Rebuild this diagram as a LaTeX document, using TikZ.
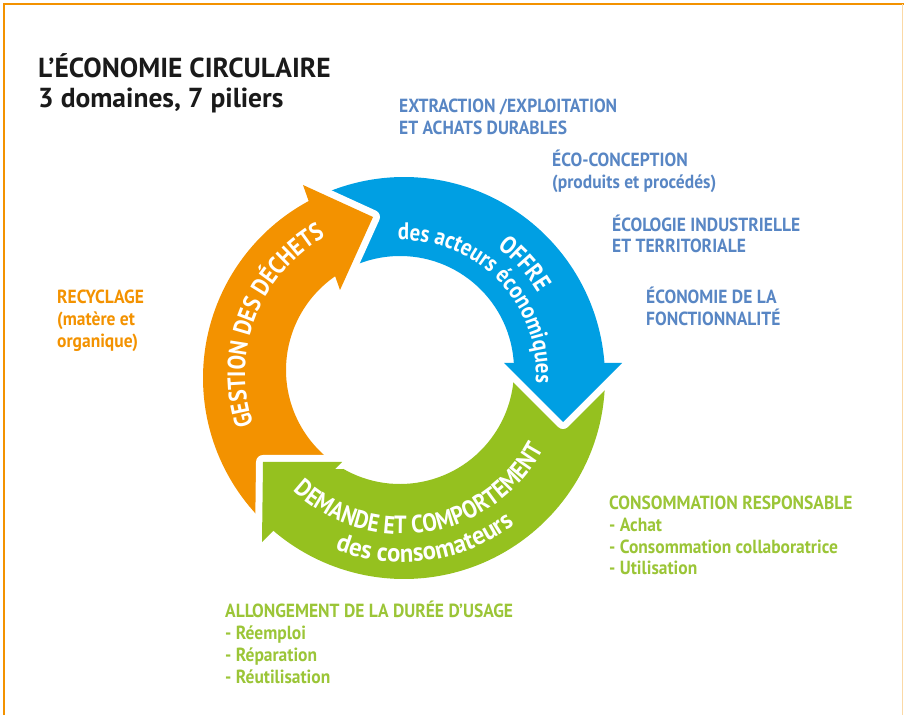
\documentclass[tikz,border=0pt]{standalone}
\usepackage{fontspec}
\newfontfamily\cf{PT Sans}[FakeStretch=0.92]
\newfontfamily\cft{PT Sans}
\newfontfamily\cfa{PT Sans}[FakeStretch=0.87]
\newfontfamily\cfb{PT Sans}[FakeStretch=0.95]
\usetikzlibrary{calc,decorations.text}
\definecolor{corange}{RGB}{243,146,0}
\definecolor{cblue}{RGB}{0,159,227}
\definecolor{cgreen}{RGB}{149,193,31}
\definecolor{tblue}{RGB}{88,134,196}
\definecolor{tgreen}{RGB}{155,197,55}
\definecolor{ttitle}{RGB}{26,26,26}
\begin{document}
\begin{tikzpicture}[x=1pt,y=1pt,
  lbl/.style={anchor=base west, inner sep=0pt, font=\cf\bfseries\fontsize{19}{22}\selectfont},
  ttl/.style={anchor=base west, inner sep=0pt, text=ttitle, font=\cft\bfseries\fontsize{27.5}{30}\selectfont},
  gap/.style={draw=white, line width=14pt, line join=round, line cap=round},
  frame/.style={draw=corange, line width=2.5pt}]
\useasboundingbox (0,0) rectangle (904,715);
% frame
\draw[frame] (4,0) -- (4,711) -- (904,711);
\draw[corange!35, line width=1.5pt] (902.5,0) -- (902.5,711);
% centres
\coordinate (O) at (404,337);
\coordinate (I) at (400,345);
\coordinate (M) at (402,341);
% bands
\fill[cblue] ($(O)+(115.3:201)$) arc[start angle=115.3, end angle=3.3, radius=201]
  -- ($(I)+(2.5:114)$) arc[start angle=2.5, end angle=121.6, radius=114] -- cycle;
\fill[cgreen] ($(O)+(1.3:201)$) arc[start angle=1.3, end angle=-131.6, radius=201]
  -- ($(I)+(-123.8:114)$) arc[start angle=-123.8, end angle=0.5, radius=114] -- cycle;
\fill[corange] ($(O)+(226.4:201)$) arc[start angle=226.4, end angle=117.3, radius=201]
  -- ($(I)+(123.6:114)$) arc[start angle=123.6, end angle=234.2, radius=114] -- cycle;
% heads
\coordinate (owo) at (303,530); \coordinate (otip) at (373,498); \coordinate (owi) at (340,425);
\coordinate (bwi) at (504,352); \coordinate (btip) at (563,293); \coordinate (bwo) at (622,352);
\coordinate (gwi) at (342,253); \coordinate (gtip) at (263,253); \coordinate (gwo) at (262,173);
\draw[gap] (owo) -- (otip) -- (owi);
\fill[corange] (owo) -- (otip) -- (owi) -- cycle;
\draw[gap] (bwi) -- (btip) -- (bwo);
\fill[cblue] (bwi) -- (btip) -- (bwo) -- cycle;
\draw[gap] (gwi) -- (gtip) -- (gwo);
\fill[cgreen] (gwi) -- (gtip) -- (gwo) -- cycle;
% curved texts
\path[decorate, decoration={text along path, text align=center, text color=white,
  text={|\cfa\bfseries\fontsize{25}{25}\selectfont|GESTION DES DÉCHETS}}]
  ($(M)+(221:157)$) arc[start angle=221, end angle=97, radius=157];
\path[decorate, decoration={text along path, text align=center, text color=white,
  text={|\cfa\bfseries\fontsize{25}{25}\selectfont|OFFRE}}]
  ($(M)+(100:158)$) arc[start angle=100, end angle=-16, radius=158];
\path[decorate, decoration={text along path, text align=center, text color=white,
  text={|\cfa\bfseries\fontsize{24}{24}\selectfont|des acteurs économiques}}]
  ($(M)+(112:134)$) arc[start angle=112, end angle=-24, radius=134];
\path[decorate, decoration={text along path, text align=center, text color=white,
  text={|\cfa\bfseries\fontsize{25}{25}\selectfont|DEMANDE ET COMPORTEMENT}}]
  ($(M)+(196:160)$) arc[start angle=196, end angle=363, radius=160];
\path[decorate, decoration={text along path, text align=center, text color=white,
  text={|\cfb\bfseries\fontsize{26}{26}\selectfont|des consomateurs}}]
  ($(M)+(205:188)$) arc[start angle=205, end angle=351, radius=188];
% title
\node[ttl] (t1) at (38,637) {L’ÉCONOMIE CIRCULAIRE};
\node[ttl] (t2) at (38,607) {3 domaines, 7 piliers};
% blue labels
\node[lbl, text=tblue] (b1) at (399,602) {EXTRACTION /EXPLOITATION};
\node[lbl, text=tblue] (b2) at (399,580) {ET ACHATS DURABLES};
\node[lbl, text=tblue] (b3) at (552,548) {ÉCO-CONCEPTION};
\node[lbl, text=tblue] (b4) at (552,526) {(produits et procédés)};
\node[lbl, text=tblue] (b5) at (612,483) {ÉCOLOGIE INDUSTRIELLE};
\node[lbl, text=tblue] (b6) at (612,462) {ET TERRITORIALE};
\node[lbl, text=tblue] (b7) at (646,411) {ÉCONOMIE DE LA};
\node[lbl, text=tblue] (b8) at (646,389) {FONCTIONNALITÉ};
% orange labels
\node[lbl, text=corange] (o1) at (57,411) {RECYCLAGE};
\node[lbl, text=corange] (o2) at (57,389) {(matère et};
\node[lbl, text=corange] (o3) at (57,367) {organique)};
% green labels
\node[lbl, text=tgreen] (g1) at (609,206) {CONSOMMATION RESPONSABLE};
\node[lbl, text=tgreen] (g2) at (609,184) {- Achat};
\node[lbl, text=tgreen] (g3) at (609,162) {- Consommation collaboratrice};
\node[lbl, text=tgreen] (g4) at (609,141) {- Utilisation};
\node[lbl, text=tgreen] (a1) at (225,98) {ALLONGEMENT DE LA DURÉE D’USAGE};
\node[lbl, text=tgreen] (a2) at (225,76) {- Réemploi};
\node[lbl, text=tgreen] (a3) at (225,54) {- Réparation};
\node[lbl, text=tgreen] (a4) at (225,32) {- Réutilisation};
\end{tikzpicture}
\end{document}
